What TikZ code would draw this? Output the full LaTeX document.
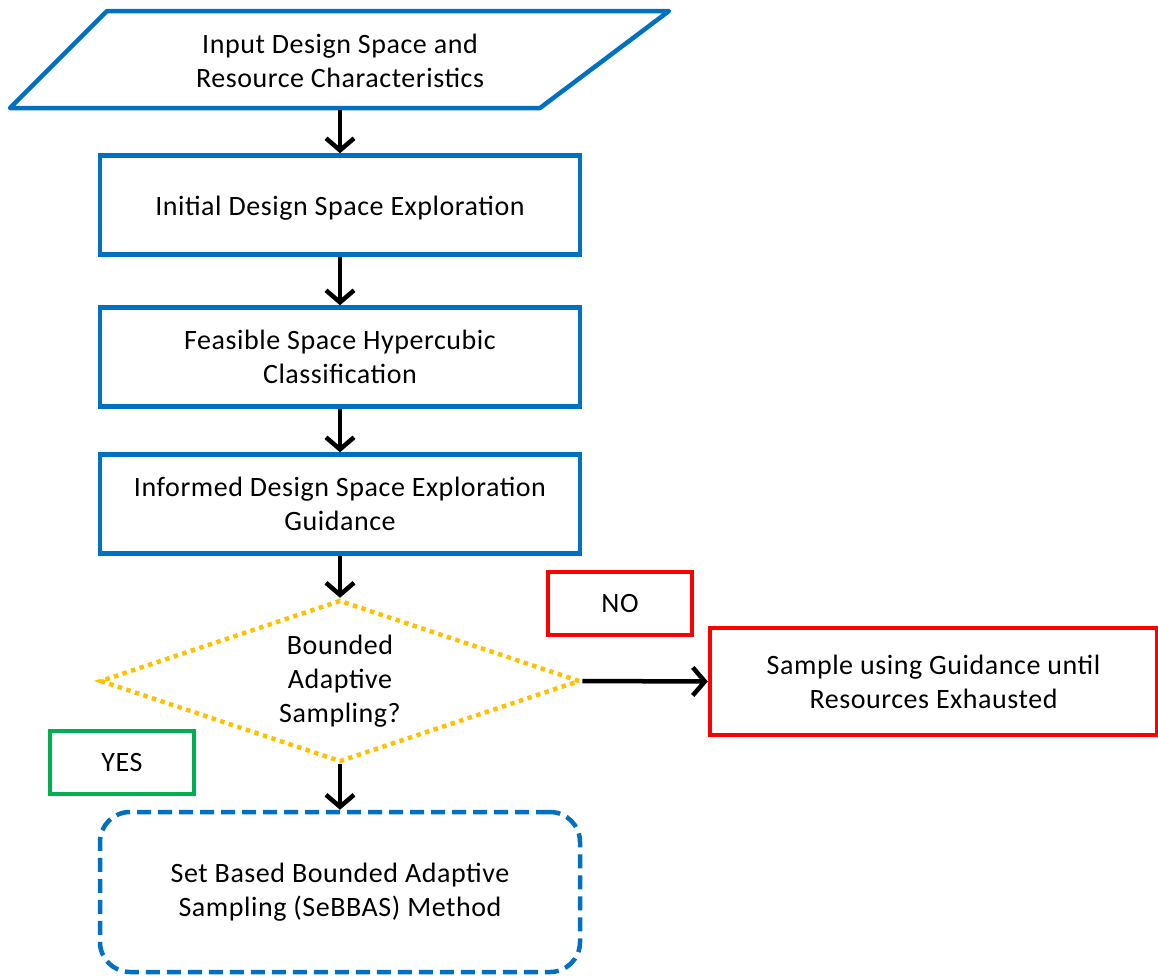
\documentclass[tikz,border=0pt]{standalone}
\usepackage{fontspec}
\setmainfont[LetterSpace=2]{Carlito}
\usetikzlibrary{arrows.meta,shapes.geometric}
\definecolor{flowblue}{HTML}{0070C0}
\definecolor{flowred}{HTML}{FF0000}
\definecolor{flowgreen}{HTML}{00B050}
\definecolor{flowyellow}{HTML}{FFC000}
\tikzset{
  txt/.style={font=\fontsize{28}{34}\selectfont, align=center, inner sep=0pt},
  stepbox/.style={txt, draw=flowblue, line width=4.5pt, minimum width=480pt, minimum height=99pt},
  decision/.style={txt, diamond, aspect=3, draw=flowyellow, line width=4.5pt,
    dash pattern=on 4.5pt off 4.5pt, minimum width=480pt, minimum height=162pt},
  redbox/.style={txt, draw=flowred, line width=4.5pt},
  tagbox/.style={txt, line width=4.5pt, minimum width=144pt, minimum height=63pt},
  flow/.style={line width=4.5pt, -{Straight Barb[length=12pt,width=28pt]}},
}
\begin{document}
\begin{tikzpicture}[x=1pt,y=-1pt]
\useasboundingbox (0,0) rectangle (1158,977);

% input parallelogram
\draw[flowblue, line width=4.5pt, line join=round]
  (107,11) -- (669,11) -- (540,108) -- (10,108) -- cycle;
\node[txt, minimum height=97pt] (input) at (340,61)
  {Input Design Space and\\Resource Characteristics};

% process steps
\node[stepbox, text height=27pt, text depth=6pt] (explore) at (340,205)
  {Initial Design Space Exploration};
\node[stepbox] (classify) at (340,357) {Feasible Space Hypercubic\\Classification};
\node[stepbox] (guide) at (340,504) {Informed Design Space Exploration\\Guidance};

% decision
\node[decision] (bas) at (340,681) {Bounded\\Adaptive\\Sampling?};

% outcomes
\node[redbox, minimum width=447pt, minimum height=107pt] (sample) at (933.5,681.5)
  {Sample using Guidance until\\Resources Exhausted};
\node[txt, draw=flowblue, line width=4.5pt, dash pattern=on 14pt off 7pt,
  rounded corners=30pt, minimum width=480pt, minimum height=160pt] (sebbas) at (340,892)
  {Set Based Bounded Adaptive\\Sampling (SeBBAS) Method};

% branch labels
\node[tagbox, draw=flowred] (no) at (620,603.5) {NO};
\node[tagbox, draw=flowgreen, line width=3.5pt] (yes) at (122,762.5) {YES};

% connectors
\draw[flow] (input.south) -- (explore.north);
\draw[flow] (explore) -- (classify);
\draw[flow] (classify) -- (guide);
\draw[flow] (guide) -- (bas.north);
\draw[flow] (bas.east) -- (sample.west);
\draw[flow] (bas.south) -- (sebbas.north);
\end{tikzpicture}
\end{document}
